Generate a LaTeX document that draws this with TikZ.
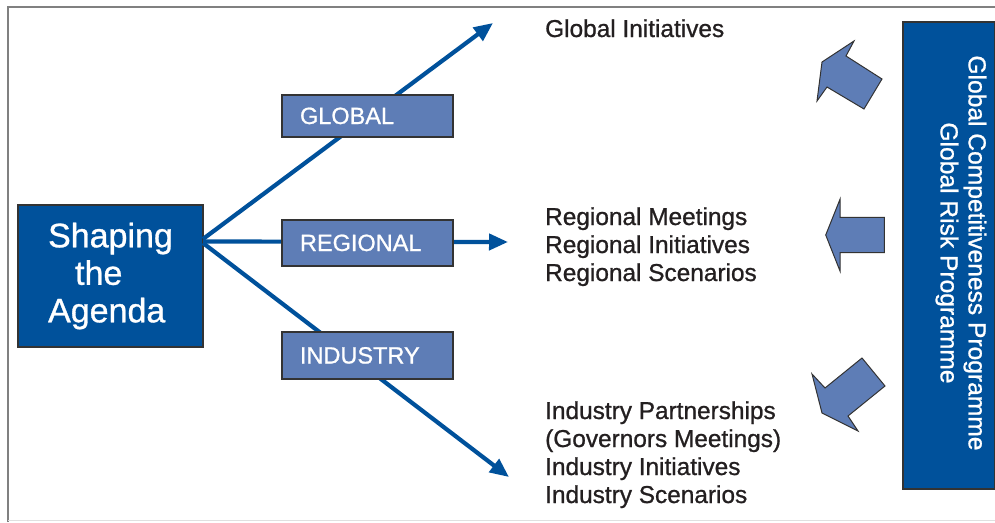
\documentclass[tikz,border=0pt]{standalone}
\usepackage{fontspec}
\setmainfont{Liberation Sans}[FakeBold=0.9]
\usetikzlibrary{arrows.meta}
\definecolor{darkblue}{HTML}{00519B}
\definecolor{midblue}{HTML}{5E7DB6}
\definecolor{edgegray}{HTML}{333333}
\definecolor{txtgray}{HTML}{231F20}
\definecolor{framegray}{HTML}{808080}
\tikzset{
  mainbox/.style={draw=edgegray, line width=1.2pt, fill=darkblue, text=white, inner sep=0pt},
  branchbox/.style={draw=edgegray, line width=1.2pt, fill=midblue, text=white, minimum width=171pt,
     text width=135pt, align=left, inner sep=0pt, text height=16pt, text depth=0pt,
     font=\fontsize{23.5}{26}\selectfont},
  conn/.style={draw=darkblue, line width=4.2pt, -{Triangle[length=19pt,width=16pt]}},
  itemtext/.style={text=txtgray, align=left, inner sep=0pt, anchor=base west,
     font=\fontsize{24.4}{28}\selectfont},
  blockarrow/.style={draw=edgegray, line width=1pt, fill=midblue, line join=miter}
}
\begin{document}
\begin{tikzpicture}[x=1pt,y=-1pt]
\useasboundingbox (0,0) rectangle (995,522);
% frame
\draw[framegray, line width=2pt] (8,522) -- (8,7) -- (995,7);
\draw[black!12, line width=1pt] (8,520.5) -- (995,520.5);

% main box
\node[mainbox, minimum width=185pt, minimum height=142pt, align=left,
      font=\fontsize{34}{37.5}\selectfont] (sa) at (110.5,276) {Shaping\\\hspace*{27pt}the\\Agenda};

% arrow tips
\coordinate (tipG) at (493,23);
\coordinate (tipR) at (508,242);
\coordinate (tipI) at (509,477);
\coordinate (startG) at (203,239);
\coordinate (startR) at (203,241.5);
\coordinate (startI) at (203,243);

\draw[conn] (startG) -- (tipG);
\draw[conn] (startR) -- (tipR);
\draw[conn] (startI) -- (tipI);

% branch boxes
\node[branchbox, minimum height=42pt] (gl) at (367.5,116) {GLOBAL};
\node[branchbox, minimum height=46pt] (rg) at (367.5,243) {REGIONAL};
\node[branchbox, minimum height=47pt] (in) at (367.5,355.5) {INDUSTRY};

% right texts (anchor = baseline of last line)
\node[itemtext] (tg) at (545,37) {Global Initiatives};
\node[itemtext] (tr) at (545,281) {Regional Meetings\\Regional Initiatives\\Regional Scenarios};
\node[itemtext] (ti) at (545,503) {Industry Partnerships\\(Governors Meetings)\\Industry Initiatives\\Industry Scenarios};

% vertical programme box
\node[mainbox, minimum width=92pt, minimum height=467pt] (gp) at (949,255.5) {};
\node[text=white, rotate=-90, align=center, inner sep=0pt,
      font=\fontsize{24.6}{28}\selectfont] (gpt) at (961,253)
      {Global Competitiveness Programme\\Global Risk Programme};

% block arrows
\path[blockarrow] (822,62) -- (854,41) -- (846,56) -- (882,79) -- (864,109) -- (827,87) -- (817,101) -- cycle;
\path[blockarrow] (825.7,235) -- (840,199.3) -- (840,217.3) -- (884.3,217.3) -- (884.3,252.7) -- (840,252.7) -- (840,271) -- cycle;
\path[blockarrow] (822,413) -- (812,374) -- (825,388) -- (862,358) -- (885,386) -- (848,416) -- (858,431) -- cycle;
\end{tikzpicture}
\end{document}
